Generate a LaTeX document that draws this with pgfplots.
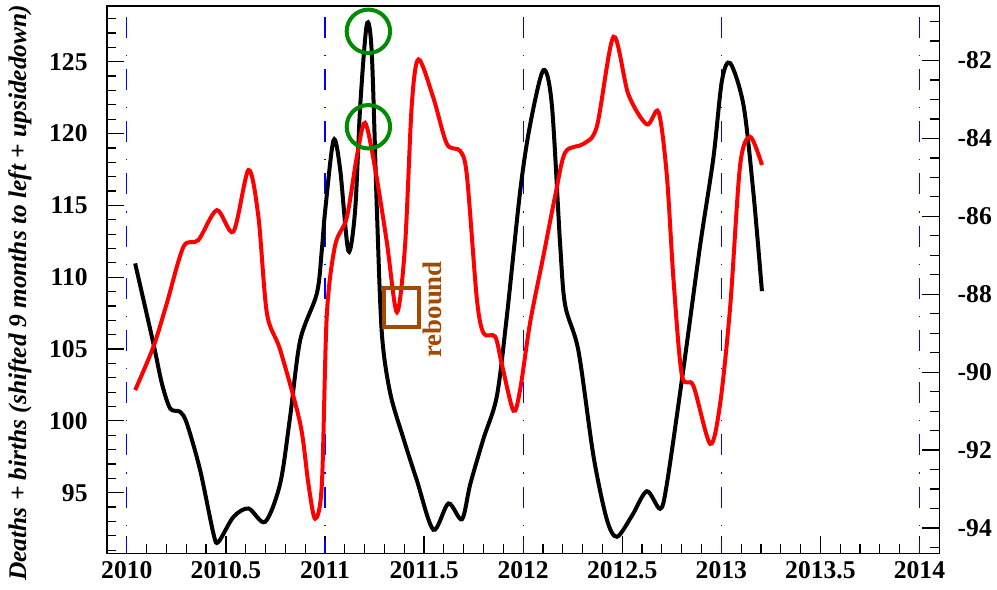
\documentclass[border=0pt]{standalone}
\usepackage{pgfplots}
\pgfplotsset{compat=1.18}
\usepackage{fontspec}
\setmainfont{Liberation Serif}
\definecolor{annotgreen}{RGB}{0,140,0}
\definecolor{annotbrown}{RGB}{165,72,0}

\begin{document}
\begin{tikzpicture}
\useasboundingbox (-53.5bp,-18.35bp) rectangle (445bp,276.65bp);
\pgfplotsset{
    every axis/.append style={
        scale only axis,
        width=416.15bp, height=273.65bp,
        xmin=2009.9, xmax=2014.1,
        tick align=inside,
        major tick length=8.5bp,
        minor tick length=4.5bp,
        tick style={black, line width=0.6bp},
        axis line style={line width=0.8bp},
        ticklabel style={font=\fontsize{12.8bp}{14bp}\selectfont\bfseries, inner sep=0pt},
    },
    yearline/.style={blue, line width=0.6bp, forget plot,
        dash pattern=on 10.5bp off 8.5bp on 0.6bp off 6.5bp},
}
% left axis: deaths (black)
\begin{axis}[
    ymin=90.78, ymax=128.88,
    xtick={2010,2010.5,2011,2011.5,2012,2012.5,2013,2013.5,2014},
    xticklabels={2010,2010.5,2011,2011.5,2012,2012.5,2013,2013.5,2014},
    minor xtick={2009.9,2010,...,2014.1},
    ytick={95,100,105,110,115,120,125},
    yticklabels={95,100,105,110,115,120,125},
    minor ytick={91,92,...,128},
    xtick pos=left, ytick pos=left,
    xticklabel style={yshift=-4bp},
    yticklabel style={xshift=-9.5bp},
]
\addplot[yearline] coordinates {(2010,128.13) (2010,90.78)};
\addplot[yearline] coordinates {(2011,128.13) (2011,90.78)};
\addplot[yearline] coordinates {(2012,128.13) (2012,90.78)};
\addplot[yearline] coordinates {(2013,128.13) (2013,90.78)};
\addplot[yearline] coordinates {(2014,128.13) (2014,90.78)};
\addplot[black, line width=2bp, smooth, tension=0.5]
    coordinates {
        (2010.042,110.96)
        (2010.134,105.39)
        (2010.177,102.60)
        (2010.219,100.86)
        (2010.269,100.63)
        (2010.303,99.82)
        (2010.370,96.57)
        (2010.437,92.16)
        (2010.462,91.57)
        (2010.538,93.31)
        (2010.614,93.90)
        (2010.698,92.97)
        (2010.774,95.64)
        (2010.824,100.28)
        (2010.875,105.62)
        (2010.959,108.87)
        (2010.984,111.89)
        (2011.001,114.64)
        (2011.043,119.53)
        (2011.076,117.57)
        (2011.118,111.83)
        (2011.152,114.64)
        (2011.178,121.97)
        (2011.211,127.58)
        (2011.236,125.63)
        (2011.262,114.64)
        (2011.287,106.09)
        (2011.329,101.94)
        (2011.396,98.77)
        (2011.464,95.84)
        (2011.547,92.42)
        (2011.623,94.25)
        (2011.691,93.15)
        (2011.733,95.59)
        (2011.800,98.77)
        (2011.867,101.70)
        (2011.918,107.31)
        (2011.985,116.0)
        (2012.035,120.6)
        (2012.102,124.41)
        (2012.145,121.97)
        (2012.187,112.20)
        (2012.212,108.04)
        (2012.279,104.87)
        (2012.355,97.54)
        (2012.422,93.15)
        (2012.473,91.93)
        (2012.549,93.39)
        (2012.624,95.10)
        (2012.691,93.88)
        (2012.725,95.59)
        (2012.809,103.65)
        (2012.893,112.20)
        (2012.960,118.31)
        (2013.003,123.68)
        (2013.045,124.90)
        (2013.112,121.97)
        (2013.162,115.86)
        (2013.205,109.03)
    };
\end{axis}
% right axis: births, shifted and upside down (red)
\begin{axis}[
    ymin=-94.65, ymax=-80.6,
    xtick=\empty,
    ytick={-94,-92,-90,-88,-86,-84,-82},
    yticklabels={-94,-92,-90,-88,-86,-84,-82},
    minor ytick={-94.5,-94,...,-80.5},
    ytick pos=right, yticklabel pos=right,
    yticklabel style={xshift=9bp},
]
\addplot[red, line width=2bp, smooth, tension=0.5]
    coordinates {
        (2010.042,-90.46)
        (2010.134,-89.35)
        (2010.202,-88.23)
        (2010.286,-86.78)
        (2010.361,-86.61)
        (2010.454,-85.84)
        (2010.538,-86.39)
        (2010.614,-84.81)
        (2010.664,-86.01)
        (2010.707,-88.49)
        (2010.774,-89.43)
        (2010.875,-91.32)
        (2010.916,-92.86)
        (2010.950,-93.76)
        (2010.984,-92.90)
        (2011.009,-88.55)
        (2011.051,-86.75)
        (2011.110,-86.03)
        (2011.160,-84.49)
        (2011.202,-83.60)
        (2011.253,-84.77)
        (2011.312,-86.66)
        (2011.363,-88.46)
        (2011.404,-86.75)
        (2011.438,-83.14)
        (2011.472,-81.97)
        (2011.547,-82.96)
        (2011.615,-84.14)
        (2011.682,-84.32)
        (2011.716,-84.95)
        (2011.766,-88.10)
        (2011.800,-89.00)
        (2011.859,-89.09)
        (2011.893,-89.81)
        (2011.951,-90.99)
        (2011.985,-90.44)
        (2012.035,-88.73)
        (2012.102,-87.02)
        (2012.161,-85.49)
        (2012.212,-84.36)
        (2012.304,-84.14)
        (2012.372,-83.69)
        (2012.456,-81.39)
        (2012.531,-82.87)
        (2012.624,-83.64)
        (2012.683,-83.32)
        (2012.725,-84.95)
        (2012.759,-87.65)
        (2012.801,-90.08)
        (2012.859,-90.35)
        (2012.944,-91.84)
        (2012.994,-90.81)
        (2013.045,-88.30)
        (2013.095,-84.68)
        (2013.146,-83.96)
        (2013.205,-84.68)
    };
% annotations
\draw[annotgreen, line width=2bp] (axis cs:2011.219,-81.25) circle[radius=10.85bp];
\draw[annotgreen, line width=2bp] (axis cs:2011.219,-83.70) circle[radius=10.85bp];
\draw[annotbrown, line width=2bp] (axis cs:2011.299,-87.85) rectangle (axis cs:2011.475,-88.84);
\node[rotate=90, text=annotbrown, font=\fontsize{13.4bp}{15bp}\selectfont\bfseries, inner sep=0pt]
    at (axis cs:2011.543,-88.39) {rebound};
\end{axis}
\node[rotate=90, anchor=east, inner sep=0pt,
      font=\fontsize{12.7bp}{14bp}\selectfont\bfseries\itshape]
    at (-43.5bp,274.4bp) {Deaths + births (shifted 9 months to left + upsidedown)};
\end{tikzpicture}
\end{document}
